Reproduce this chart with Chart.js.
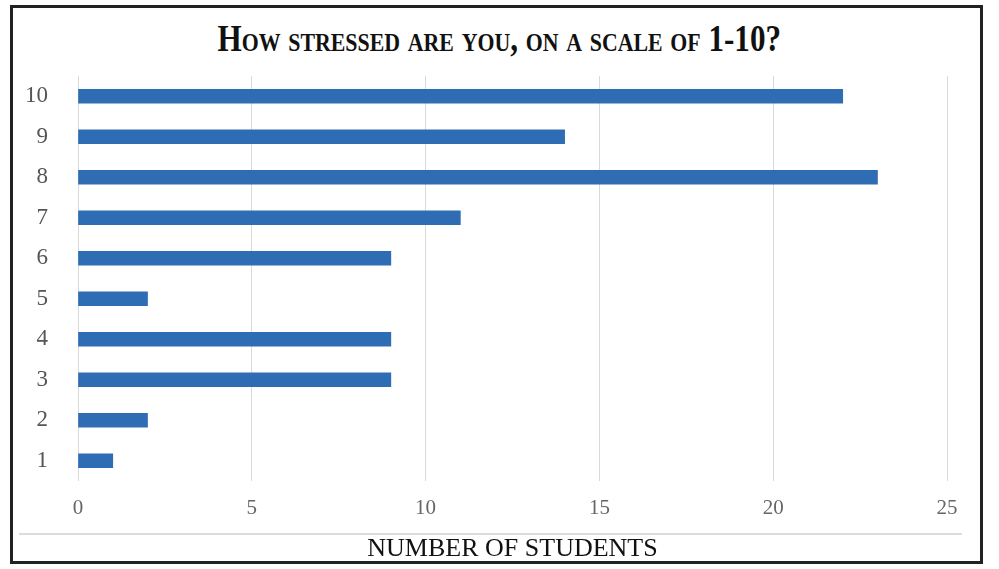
<!DOCTYPE html>
<html lang="en">
  <head>
    <title>stress-chart</title>
    <meta charset="utf-8" />
    <script src="https://cdn.jsdelivr.net/npm/chart.js@4.4.9/dist/chart.umd.min.js"></script>
    <style>
      body { margin: 0; padding: 0; width: 999px; height: 569px; background: #fff; position: relative; overflow: hidden; }
      #frame { position: absolute; left: 10px; top: 5px; width: 967px; height: 553px; border: 3px solid #222; }
      #title {
        position: absolute; left: 0; top: 17px; width: 999px; text-align: center;
        font: bold 37px "Liberation Serif", serif; font-variant: small-caps; color: #111;
        transform: scaleX(0.84); transform-origin: 498px 0;
      }
      #sep { position: absolute; left: 19px; top: 533px; width: 943px; height: 2px; background: #dcdcdc; }
      #myChart { position: absolute; left: 0; top: 0; }
    </style>
  </head>

  <body>
    <div id="frame"></div>
    <div id="title">How stressed are you, on a scale of 1-10?</div>
    <div id="sep"></div>
    <canvas id="myChart" width="999" height="569"></canvas>

    <script>
      const categories = ["1", "2", "3", "4", "5", "6", "7", "8", "9", "10"];
      const students = [1, 2, 9, 9, 2, 9, 11, 23, 14, 22];
      const xTicks = [0, 5, 10, 15, 20, 25];

      const serif = '"Liberation Serif", serif';

      new Chart(document.getElementById("myChart"), {
        type: "bar",
        data: {
          labels: categories,
          datasets: [
            {
              label: "Students",
              data: students,
              backgroundColor: "#2E6DB3",
              barThickness: 14,
            },
          ],
        },
        options: {
          indexAxis: "y",
          responsive: false,
          animation: false,
          layout: { padding: { left: 0, top: 76, right: 52, bottom: 0 } },
          plugins: {
            legend: { display: false },
            tooltip: { enabled: false },
          },
          scales: {
            y: {
              reverse: true,
              grid: { display: false },
              border: { display: false },
              ticks: {
                padding: 22,
                color: "#555",
                font: { family: serif, size: 23 },
              },
              afterFit(scale) {
                scale.width = 78;
              },
            },
            x: {
              min: 0,
              max: 25,
              afterBuildTicks(scale) {
                scale.ticks = xTicks.map((v) => ({ value: v }));
              },
              grid: { color: "#d9d9d9", drawTicks: false },
              border: { display: false },
              ticks: {
                padding: 15,
                color: "#666",
                font: { family: serif, size: 21 },
              },
              title: {
                display: true,
                text: "NUMBER OF STUDENTS",
                color: "#111",
                font: { family: serif, size: 26 },
                padding: { top: 0, bottom: 4 },
              },
              afterFit(scale) {
                scale.height = 88;
              },
            },
          },
        },
      });
    </script>
  </body>
</html>
